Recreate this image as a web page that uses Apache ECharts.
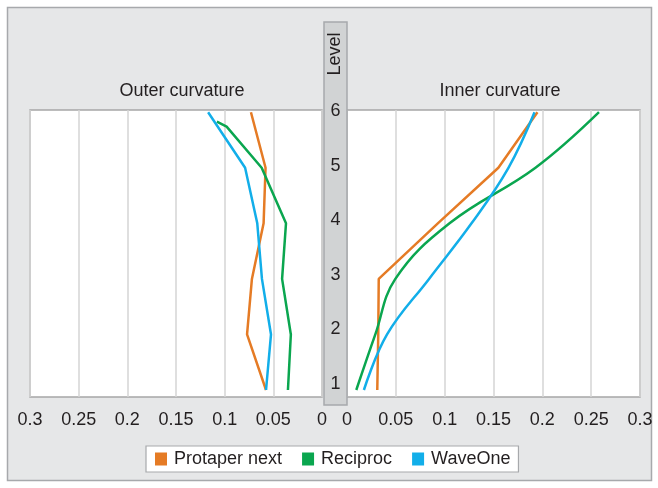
<!DOCTYPE html>
<html>
<head>
<meta charset="utf-8">
<script src="https://cdn.jsdelivr.net/npm/echarts@6/dist/echarts.min.js"></script>
<style>
  html, body { margin: 0; padding: 0; background: #fff; }
  #chart { width: 658px; height: 488px; }
</style>
</head>
<body>
<div id="chart"></div>
<script>
// levels along the canal (y) and values per instrument (x)
const seriesNames = ['Protaper next', 'Reciproc', 'WaveOne'];
const colors = ['#e57b25', '#0aa64f', '#12aee9'];
const levelLabels = [1, 2, 3, 4, 5, 6];

// outer curvature
const outerProtaperLevels = [6, 5, 4, 3, 2, 1];
const outerProtaper = [0.073, 0.058, 0.060, 0.072, 0.077, 0.0575];
const outerReciprocLevels = [5.83, 5.74, 5, 4, 3, 2, 1];
const outerReciproc = [0.108, 0.098, 0.062, 0.037, 0.041, 0.032, 0.035];
const outerWaveOneLevels = [6, 5, 4, 3, 2, 1];
const outerWaveOne = [0.117, 0.079, 0.0665, 0.0617, 0.0524, 0.0575];

// inner curvature
const innerLevels = [6, 5, 4, 3, 2, 1];
const innerProtaper = [0.195, 0.155, 0.093, 0.0325, 0.032, 0.031];
const innerReciproc = [0.258, 0.193, 0.105, 0.0495, 0.029, 0.0095];
const innerWaveOne = [0.192, 0.1653, 0.1275, 0.084, 0.041, 0.0173];

const pairs = (xs, ys) => xs.map((v, i) => [v, ys[i]]);

const chart = echarts.init(document.getElementById('chart'));

const font = 'Liberation Sans, Arial, sans-serif';
const labelStyle = { color: '#231f20', fontSize: 18, fontFamily: font };

const xAxisBase = (gridIndex, inverse) => ({
    type: 'value',
    gridIndex: gridIndex,
    min: 0,
    max: 0.3,
    interval: 0.05,
    inverse: inverse,
    axisLine: { show: false },
    axisTick: { show: false },
    axisLabel: Object.assign({ margin: 14 }, labelStyle),
    splitLine: { lineStyle: { color: '#d4d4d4', width: 1.5 } }
});

const yAxisBase = (gridIndex) => ({
    type: 'value',
    gridIndex: gridIndex,
    min: 0.874,
    max: 6.04,
    show: false,
    splitLine: { show: false }
});

const line = (name, xi, data, color, smooth) => ({
    name: name,
    type: 'line',
    xAxisIndex: xi,
    yAxisIndex: xi,
    data: data,
    symbol: 'none',
    smooth: smooth,
    lineStyle: { color: color, width: 2.5 },
    itemStyle: { color: color },
    z: 3
});

chart.setOption({
    animation: false,
    color: colors,
    textStyle: { fontFamily: font },
    graphic: [
        {
            type: 'rect',
            shape: { x: 7.5, y: 7.5, width: 644, height: 473 },
            style: { fill: '#e6e7e8', stroke: '#a7a9ac', lineWidth: 1.5 },
            z: -10
        },
        {
            type: 'rect',
            shape: { x: 324, y: 22, width: 23, height: 383 },
            style: { fill: '#d1d3d4', stroke: '#a7a9ac', lineWidth: 1.5 },
            z: 5
        },
        {
            type: 'text',
            x: 335.5,
            y: 54,
            rotation: Math.PI / 2,
            style: {
                text: 'Level',
                fill: '#231f20',
                font: '18px ' + font,
                align: 'center',
                verticalAlign: 'middle'
            },
            z: 6
        }
    ],
    title: [
        {
            text: 'Outer curvature',
            left: 177,
            top: 77,
            textAlign: 'center',
            textStyle: { color: '#231f20', fontSize: 18, fontWeight: 'normal', fontFamily: font }
        },
        {
            text: 'Inner curvature',
            left: 495,
            top: 77,
            textAlign: 'center',
            textStyle: { color: '#231f20', fontSize: 18, fontWeight: 'normal', fontFamily: font }
        }
    ],
    legend: {
        data: seriesNames,
        left: 146,
        top: 446,
        width: 372,
        icon: 'rect',
        itemWidth: 12,
        itemHeight: 13,
        itemGap: 20,
        padding: [4, 8, 4, 9],
        backgroundColor: '#fff',
        borderColor: '#a7a9ac',
        borderWidth: 1.2,
        borderRadius: 0,
        textStyle: { color: '#231f20', fontSize: 18, fontFamily: font, padding: [0, 0, 0, 2] }
    },
    grid: [
        { left: 30, width: 292, top: 110, height: 287, show: true, backgroundColor: '#fff', borderColor: '#a6a6a6', borderWidth: 1.5 },
        { left: 347, width: 293, top: 110, height: 287, show: true, backgroundColor: '#fff', borderColor: '#a6a6a6', borderWidth: 1.5 },
        { left: 324, width: 23, top: 110, height: 287 }
    ],
    xAxis: [
        xAxisBase(0, true),
        xAxisBase(1, false),
        { type: 'value', gridIndex: 2, show: false }
    ],
    yAxis: [
        yAxisBase(0),
        yAxisBase(1),
        {
            type: 'value',
            gridIndex: 2,
            min: 0.762,
            max: 6.018,
            z: 10,
            axisLine: { show: false },
            axisTick: { show: false },
            splitLine: { show: false },
            axisLabel: Object.assign({ margin: -11.5, align: 'center', customValues: levelLabels }, labelStyle)
        }
    ],
    series: [
        line(seriesNames[0], 0, pairs(outerProtaper, outerProtaperLevels), colors[0], false),
        line(seriesNames[1], 0, pairs(outerReciproc, outerReciprocLevels), colors[1], false),
        line(seriesNames[2], 0, pairs(outerWaveOne, outerWaveOneLevels), colors[2], false),
        line(seriesNames[0], 1, pairs(innerProtaper, innerLevels), colors[0], false),
        line(seriesNames[1], 1, pairs(innerReciproc, innerLevels), colors[1], 0.4),
        line(seriesNames[2], 1, pairs(innerWaveOne, innerLevels), colors[2], 0.4)
    ]
});
</script>
</body>
</html>
